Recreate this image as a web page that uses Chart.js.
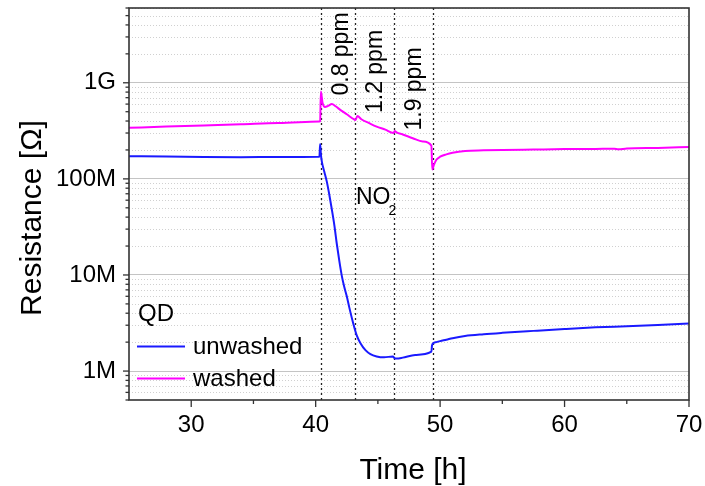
<!DOCTYPE html>
<html>
<head>
<meta charset="utf-8">
<script src="https://cdn.jsdelivr.net/npm/chart.js@4.4.1/dist/chart.umd.min.js"></script>
<style>
  html, body { margin: 0; padding: 0; background: #fff; }
  #wrap { width: 705px; height: 486px; }
</style>
</head>
<body>
<div id="wrap"><canvas id="chart" width="705" height="486"></canvas></div>
<script>
// time [h] and resistance [MOhm]
const unwashedTime = [25, 28, 31, 34, 37, 40.3, 40.36, 40.42, 40.5, 40.7, 40.9, 41.1, 41.3, 41.5, 41.7, 41.9, 42.1, 42.3, 42.5, 42.7, 43.0, 43.3, 43.6, 44.0, 44.4, 44.9, 45.5, 46.2, 46.35, 46.5, 47.0, 48.0, 49.3, 49.35, 49.45, 49.7, 50.0, 50.5, 51.0, 52.0, 53.5, 55, 57.5, 60, 62.5, 65, 67.5, 70];
const unwashedRes  = [172, 171, 169, 168, 169, 170, 230, 180, 150, 118, 93, 68, 48, 33, 21, 14, 9.8, 7.5, 6.0, 4.6, 3.2, 2.35, 1.95, 1.65, 1.5, 1.42, 1.39, 1.42, 1.36, 1.35, 1.38, 1.47, 1.59, 1.85, 1.95, 2.0, 2.05, 2.12, 2.2, 2.32, 2.42, 2.5, 2.62, 2.74, 2.85, 2.93, 3.02, 3.12];

const washedTime = [25, 28, 31, 34, 37, 40.3, 40.36, 40.42, 40.55, 40.75, 41.0, 41.3, 41.6, 42.0, 42.5, 43.1, 43.2, 43.35, 43.7, 44.3, 44.9, 45.6, 46.25, 46.35, 46.5, 47.0, 47.8, 48.6, 49.3, 49.37, 49.5, 49.7, 50.0, 50.5, 51.0, 52.0, 53.5, 55, 57.5, 60, 62.5, 64, 64.3, 65, 67.5, 70];
const washedRes  = [340, 350, 360, 370, 382, 395, 400, 810, 620, 560, 575, 600, 570, 520, 470, 415, 410, 450, 415, 380, 350, 325, 300, 315, 305, 290, 265, 245, 222, 125, 140, 158, 170, 180, 187, 195, 198, 200, 202, 204, 205, 206, 203, 207, 210, 215];

const eventTimes  = [40.4, 43.2, 46.3, 49.4];
const eventLabels = ['0.8 ppm', '1.2 ppm', '1.9 ppm'];

const xTicks      = [30, 40, 50, 60, 70];
const xMinorTicks = [35, 45, 55, 65];
const yMajorValues = [1e6, 1e7, 1e8, 1e9];
const yMajorLabels = ['1M', '10M', '100M', '1G'];

const seriesNames = ['unwashed', 'washed'];
const seriesColors = ['#1a1aff', '#ff00ff'];

const FONT = '"Liberation Sans", Arial, sans-serif';
Chart.defaults.font.family = FONT;

const toPoints = (ts, rs) => ts.map((t, i) => ({ x: t, y: rs[i] * 1e6 }));
const isDecade = v => Math.abs(Math.log10(v) - Math.round(Math.log10(v))) < 1e-9;

const decor = {
  id: 'decor',
  beforeDatasetsDraw(chart) {
    const { ctx, chartArea: a, scales: { x, y } } = chart;
    ctx.save();
    // minor dotted grid
    ctx.strokeStyle = '#d0d0d0';
    ctx.lineWidth = 1;
    ctx.setLineDash([1, 2]);
    y.ticks.forEach(t => {
      if (isDecade(t.value) || t.value <= y.min) return;
      const py = Math.round(y.getPixelForValue(t.value)) + 0.5;
      ctx.beginPath(); ctx.moveTo(a.left, py); ctx.lineTo(a.right, py); ctx.stroke();
    });
    // gas exposure markers
    ctx.strokeStyle = '#222';
    ctx.lineWidth = 1.3;
    ctx.setLineDash([2, 3]);
    eventTimes.forEach(t => {
      const px = Math.round(x.getPixelForValue(t)) + 0.5;
      ctx.beginPath(); ctx.moveTo(px, a.top); ctx.lineTo(px, a.bottom); ctx.stroke();
    });
    ctx.restore();
  },
  afterDraw(chart) {
    const { ctx, chartArea: a, scales: { x, y } } = chart;
    ctx.save();
    // frame + tick marks
    ctx.strokeStyle = '#333';
    ctx.lineWidth = 1.6;
    ctx.strokeRect(a.left, a.top, a.right - a.left, a.bottom - a.top);
    ctx.lineWidth = 1.3;
    y.ticks.forEach(t => {
      const py = y.getPixelForValue(t.value);
      const len = isDecade(t.value) ? 6 : 3.5;
      ctx.beginPath(); ctx.moveTo(a.left - len, py); ctx.lineTo(a.left, py); ctx.stroke();
    });
    xTicks.forEach(v => {
      const px = x.getPixelForValue(v);
      ctx.beginPath(); ctx.moveTo(px, a.bottom); ctx.lineTo(px, a.bottom + 7); ctx.stroke();
    });
    xMinorTicks.forEach(v => {
      const px = x.getPixelForValue(v);
      ctx.beginPath(); ctx.moveTo(px, a.bottom); ctx.lineTo(px, a.bottom + 4); ctx.stroke();
    });

    ctx.fillStyle = '#000';
    // concentration labels
    ctx.font = '23px ' + FONT;
    ctx.textAlign = 'center';
    ctx.textBaseline = 'alphabetic';
    eventLabels.forEach((lab, i) => {
      ctx.save();
      ctx.translate(x.getPixelForValue(eventTimes[i]) + 27, 54 + i * 17.5);
      ctx.rotate(-Math.PI / 2);
      ctx.fillText(lab, 0, 0);
      ctx.restore();
    });
    // NO2
    ctx.textAlign = 'left';
    const nx = x.getPixelForValue(eventTimes[1]) + 0.5;
    ctx.fillText('NO', nx, 204);
    const w = ctx.measureText('NO').width;
    ctx.font = '14px ' + FONT;
    ctx.fillText('2', nx + w - 2, 215);

    // legend
    ctx.font = '24px ' + FONT;
    ctx.fillText('QD', 138, 321);
    const rows = [346.5, 378.5];
    seriesNames.forEach((n, i) => {
      ctx.strokeStyle = seriesColors[i];
      ctx.lineWidth = 2;
      ctx.beginPath(); ctx.moveTo(137, rows[i]); ctx.lineTo(185, rows[i]); ctx.stroke();
      ctx.fillText(n, 193, rows[i] + 7);
    });

    // axis titles
    ctx.font = '30px ' + FONT;
    ctx.textAlign = 'center';
    ctx.fillText('Time [h]', 413, 479);
    ctx.save();
    ctx.translate(40.5, 218);
    ctx.rotate(-Math.PI / 2);
    ctx.fillText('Resistance [\u03A9]', 0, 0);
    ctx.restore();
    ctx.restore();
  }
};

new Chart(document.getElementById('chart'), {
  type: 'line',
  data: {
    datasets: [
      { label: seriesNames[0], data: toPoints(unwashedTime, unwashedRes), borderColor: seriesColors[0], borderWidth: 2, pointRadius: 0, cubicInterpolationMode: 'monotone' },
      { label: seriesNames[1], data: toPoints(washedTime, washedRes), borderColor: seriesColors[1], borderWidth: 2, pointRadius: 0, cubicInterpolationMode: 'monotone' }
    ]
  },
  options: {
    responsive: false,
    animation: false,
    devicePixelRatio: 1,
    layout: { padding: { left: 0, right: 16, top: 8, bottom: 0 } },
    plugins: { legend: { display: false }, tooltip: { enabled: false } },
    scales: {
      x: {
        type: 'linear', min: 25, max: 70,
        afterBuildTicks: s => { s.ticks = xTicks.map(v => ({ value: v })); },
        afterFit: s => { s.height = 86; s.paddingLeft = 0; s.paddingRight = 0; },
        grid: { display: false, drawTicks: false },
        border: { display: false },
        ticks: { color: '#000', font: { size: 24 }, padding: 11, maxRotation: 0 }
      },
      y: {
        type: 'logarithmic', min: 5e5, max: 6e9,
        afterBuildTicks: s => {
          const t = [];
          for (let e = 5; e <= 9; e++) for (let m = 1; m <= 9; m++) {
            const v = m * Math.pow(10, e);
            if (v >= s.min && v <= s.max) t.push({ value: v });
          }
          s.ticks = t;
        },
        afterFit: s => { s.width = 129; s.paddingTop = 0; s.paddingBottom = 0; },
        grid: {
          drawTicks: false,
          color: c => (c.tick && isDecade(c.tick.value)) ? '#c4c4c4' : 'rgba(0,0,0,0)',
          lineWidth: 1
        },
        border: { display: false },
        ticks: {
          autoSkip: false, color: '#000', font: { size: 24 }, padding: 13,
          callback: v => { const i = yMajorValues.indexOf(v); return i >= 0 ? yMajorLabels[i] : ''; }
        }
      }
    }
  },
  plugins: [decor]
});
</script>
</body>
</html>
